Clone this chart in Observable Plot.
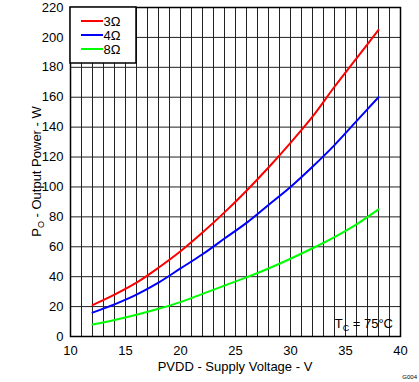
<!DOCTYPE html>
<html><head><meta charset="utf-8">
<script src="https://cdn.jsdelivr.net/npm/d3@7"></script>
<script src="https://cdn.jsdelivr.net/npm/@observablehq/plot@0.6"></script>
<style>
html,body{margin:0;padding:0;background:#fff;}
svg{font-family:"Liberation Sans",Arial,sans-serif;}
</style>
</head><body>
<div id="chart"></div>
<script>
const voltage = [12,14,16,18,20,22,24,26,28,30,32,34,36,38];
const p3ohm = [21,28,36,46,57,69.5,83,97.5,113,129.5,147,167,186,205];
const p4ohm = [16,21.5,28,36,45.5,55,65.5,76,88,100,113.5,128,144,160];
const p8ohm = [8,11,14.5,18.5,23,28.5,34,39.5,45.5,52,59,66.5,75,85];
const seriesNames = ["3Ω","4Ω","8Ω"];
const seriesColors = ["#ff0000","#0000ff","#00ff00"];
const xTicks = [10,15,20,25,30,35,40];
const yTicks = [0,20,40,60,80,100,120,140,160,180,200,220];

const allSeries = [p3ohm,p4ohm,p8ohm];
const data = [];
allSeries.forEach((vals,si)=>vals.forEach((v,i)=>data.push({x:voltage[i],y:v,s:seriesNames[si]})));

const W=419,H=382,mL=70,mR=19,mT=7,mB=46;
const chart = Plot.plot({
  width:W,height:H,
  marginLeft:mL,marginRight:mR,marginTop:mT,marginBottom:mB,
  style:{fontFamily:"Liberation Sans, Arial, sans-serif",fontSize:"13px",color:"#000",background:"#fff"},
  x:{domain:[10,40],ticks:xTicks,tickSize:0,tickPadding:9,label:null},
  y:{domain:[0,220],ticks:yTicks,tickSize:0,tickPadding:7,label:null},
  color:{domain:seriesNames,range:seriesColors},
  marks:[
    Plot.gridX(d3.range(10,41,1),{stroke:"#222",strokeOpacity:1,strokeWidth:1}),
    Plot.gridY(d3.range(0,221,20),{stroke:"#222",strokeOpacity:1,strokeWidth:1}),
    Plot.line(data,{x:"x",y:"y",stroke:"s",strokeWidth:2,curve:"catmull-rom"}),
    Plot.frame({stroke:"#000",strokeWidth:1.5}),
    Plot.axisX({ticks:xTicks,tickSize:0,tickPadding:9,label:null,fontSize:13}),
    Plot.axisY({ticks:yTicks,tickSize:0,tickPadding:7,label:null,fontSize:13})
  ]
});
document.getElementById("chart").appendChild(chart);
const svg = d3.select(chart);
const xs = chart.scale("x"), ys = chart.scale("y");
const x0 = xs.apply(10), x1 = xs.apply(40), y0 = ys.apply(0), y1 = ys.apply(220);

// Legend box
const lg = svg.append("g");
lg.append("rect").attr("x",x0).attr("y",y1).attr("width",66).attr("height",56)
  .attr("fill","#fff").attr("stroke","#000").attr("stroke-width",1.5);
seriesNames.forEach((n,i)=>{
  const yy = y1+14+i*14;
  lg.append("line").attr("x1",x0+11).attr("x2",x0+33).attr("y1",yy).attr("y2",yy)
    .attr("stroke",seriesColors[i]).attr("stroke-width",2);
  lg.append("text").attr("x",x0+42).attr("y",yy).attr("dy","0.35em")
    .attr("font-size",13).attr("fill","#000").text(n);
});

// Annotation T_C = 75°C
const ann = svg.append("text").attr("x",x1-7).attr("y",y0-8).attr("text-anchor","end")
  .attr("font-size",13).attr("fill","#000");
ann.append("tspan").text("T");
ann.append("tspan").attr("font-size",9).attr("dy",3).text("C");
ann.append("tspan").attr("dy",-3).text(" = 75°C");

// X axis label
svg.append("text").attr("x",(x0+x1)/2).attr("y",H-11).attr("text-anchor","middle")
  .attr("font-size",13).attr("fill","#000").text("PVDD - Supply Voltage - V");

// Y axis label
const yl = svg.append("text").attr("transform",`translate(41,${(y0+y1)/2}) rotate(-90)`)
  .attr("text-anchor","middle").attr("font-size",13).attr("fill","#000");
yl.append("tspan").text("P");
yl.append("tspan").attr("font-size",9).attr("dy",3).text("O");
yl.append("tspan").attr("dy",-3).text(" - Output Power - W");

// Figure code
svg.append("text").attr("x",W-2).attr("y",H-3).attr("text-anchor","end")
  .attr("font-size",6).attr("fill","#000").text("G004");
</script>
</body></html>
